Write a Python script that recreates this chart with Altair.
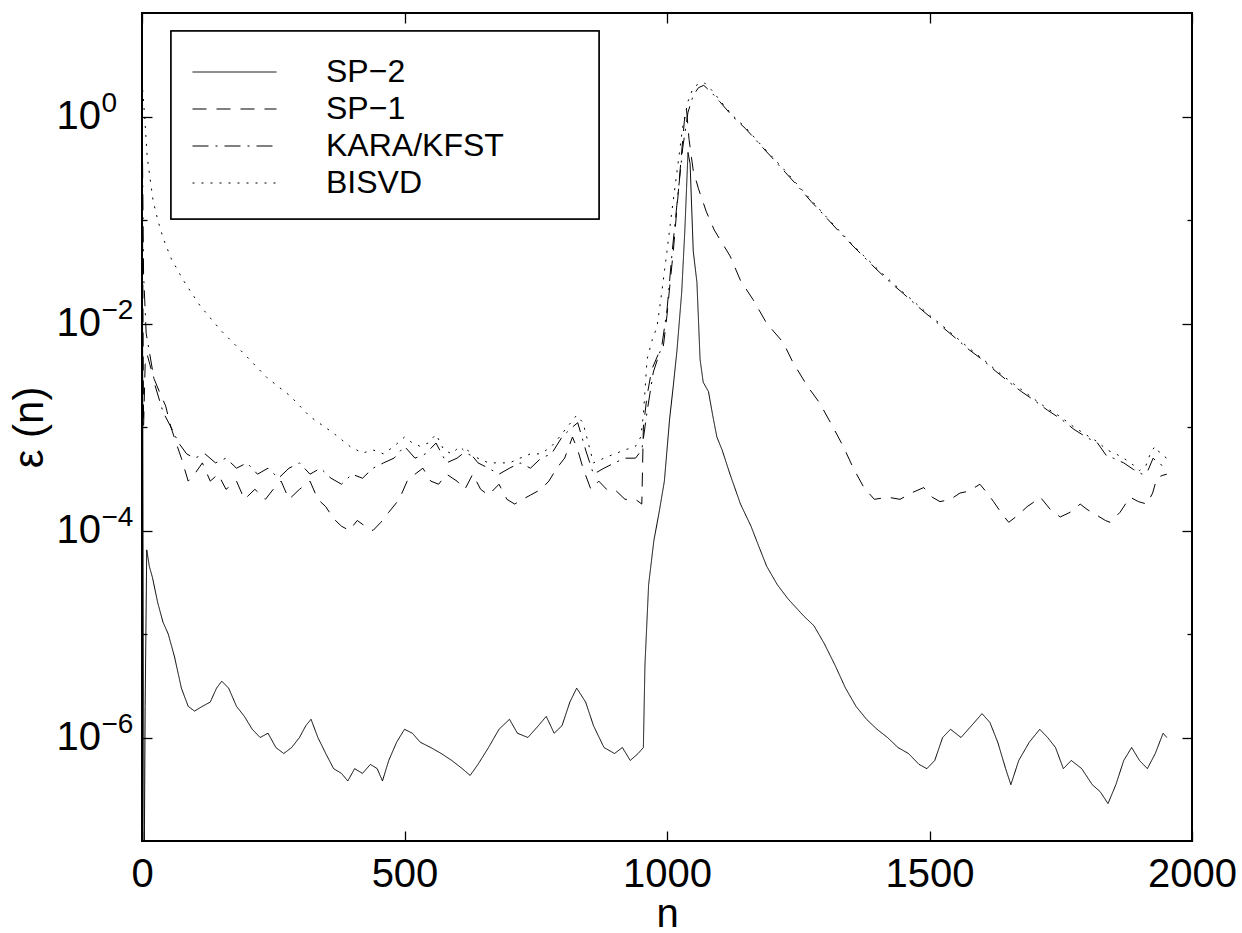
import altair as alt
import pandas as pd

FONT = "Liberation Sans"

# ---- data (n, epsilon(n)) ----
SP2 = [(0, 2.0), (2, 1e-4), (4, 3e-8), (6, 2e-6), (9, 6.5e-5), (14, 4.5e-5), (20, 3.5e-5),
       (30, 2e-5), (40, 1.3e-5), (50, 1e-5), (62, 6e-6), (75, 3e-6), (88, 2e-6), (100, 1.8e-6),
       (115, 2e-6), (130, 2.2e-6), (142, 3e-6), (152, 3.5e-6), (165, 3e-6), (180, 2e-6),
       (195, 1.6e-6), (210, 1.2e-6), (225, 1e-6), (240, 1.1e-6), (255, 8e-7), (270, 7e-7),
       (285, 8e-7), (300, 1e-6), (312, 1.3e-6), (322, 1.5e-6), (335, 1e-6), (350, 7e-7),
       (365, 5e-7), (380, 4.5e-7), (392, 3.8e-7), (405, 5e-7), (420, 4.5e-7), (435, 5.5e-7),
       (448, 5e-7), (458, 3.8e-7), (470, 6e-7), (485, 9e-7), (500, 1.2e-6), (515, 1.1e-6),
       (530, 9e-7), (550, 8e-7), (570, 7e-7), (590, 6e-7), (610, 5e-7), (625, 4.3e-7),
       (640, 5.5e-7), (660, 8e-7), (680, 1.2e-6), (700, 1.5e-6), (715, 1.1e-6), (735, 1e-6),
       (755, 1.3e-6), (770, 1.6e-6), (785, 1.1e-6), (800, 1.3e-6), (815, 2.2e-6), (828, 3e-6),
       (845, 2.2e-6), (860, 1.3e-6), (880, 8e-7), (900, 7e-7), (915, 8e-7), (930, 6e-7),
       (945, 7e-7), (955, 8e-7), (958, 5e-6), (965, 3e-5), (975, 8e-5), (985, 1.5e-4),
       (995, 3e-4), (1005, 1.2e-3), (1012, 2.5e-3), (1019, 5.5e-3), (1028, 2e-2), (1034, 8e-2),
       (1040, 0.45), (1044, 0.35), (1050, 5e-2), (1057, 2.5e-2), (1063, 4.5e-3), (1069, 2.7e-3),
       (1079, 2.2e-3), (1087, 1.3e-3), (1095, 8e-4), (1105, 6e-4), (1120, 3.5e-4), (1140, 1.8e-4),
       (1160, 1.1e-4), (1175, 7e-5), (1190, 4.5e-5), (1210, 3e-5), (1230, 2.2e-5), (1260, 1.5e-5),
       (1280, 1.2e-5), (1300, 8e-6), (1320, 5e-6), (1340, 3e-6), (1360, 2e-6), (1380, 1.5e-6),
       (1400, 1.2e-6), (1420, 1e-6), (1440, 8e-7), (1460, 7e-7), (1480, 5.5e-7), (1495, 5e-7),
       (1510, 6e-7), (1525, 1e-6), (1540, 1.2e-6), (1560, 1e-6), (1580, 1.3e-6), (1600, 1.7e-6),
       (1615, 1.4e-6), (1630, 9e-7), (1645, 5e-7), (1655, 3.5e-7), (1670, 6e-7), (1690, 9e-7),
       (1710, 1.2e-6), (1725, 1e-6), (1740, 8e-7), (1755, 5e-7), (1770, 6e-7), (1790, 5e-7),
       (1810, 3.5e-7), (1825, 3e-7), (1840, 2.3e-7), (1855, 3.5e-7), (1870, 6e-7), (1885, 8e-7),
       (1900, 6e-7), (1915, 5e-7), (1930, 7e-7), (1945, 1.1e-6), (1952, 1e-6)]

SP1 = [(0, 1.0), (3, 1e-3), (6, 4e-3), (10, 5e-3), (15, 4e-3), (22, 3e-3), (33, 2.2e-3),
       (45, 1.6e-3), (55, 1e-3), (65, 7e-4), (75, 5e-4), (88, 3e-4), (100, 3.5e-4), (115, 4.5e-4),
       (130, 3e-4), (145, 3.5e-4), (160, 2.5e-4), (180, 3e-4), (195, 2e-4), (215, 2.5e-4),
       (235, 2e-4), (250, 2.5e-4), (265, 3e-4), (280, 2e-4), (300, 2.5e-4), (320, 3e-4),
       (335, 2e-4), (350, 1.7e-4), (365, 1.3e-4), (380, 1.1e-4), (395, 1e-4), (410, 1.25e-4),
       (425, 1.1e-4), (440, 1e-4), (455, 1.2e-4), (470, 1.5e-4), (490, 2e-4), (505, 3e-4),
       (520, 3.5e-4), (535, 4e-4), (550, 3e-4), (565, 2.8e-4), (580, 3.5e-4), (600, 3e-4),
       (615, 2.5e-4), (630, 3.5e-4), (645, 2.5e-4), (660, 2.2e-4), (680, 2.8e-4), (695, 2e-4),
       (710, 1.8e-4), (725, 2e-4), (740, 2.2e-4), (760, 2.5e-4), (775, 3e-4), (790, 4e-4),
       (805, 5e-4), (820, 8e-4), (830, 6e-4), (840, 4e-4), (855, 2.5e-4), (870, 3e-4),
       (885, 2.5e-4), (900, 2.5e-4), (920, 2e-4), (940, 2e-4), (952, 1.8e-4), (955, 1e-3),
       (962, 2e-3), (971, 3.6e-3), (983, 5e-3), (993, 6e-3), (1000, 1.2e-2), (1006, 2.5e-2),
       (1012, 5e-2), (1020, 1.5e-1), (1027, 4e-1), (1033, 9e-1), (1037, 1.2), (1042, 6e-1),
       (1050, 3e-1), (1060, 2e-1), (1075, 1.2e-1), (1090, 8e-2), (1105, 6e-2), (1120, 4.5e-2),
       (1140, 2.6e-2), (1164, 1.7e-2), (1190, 1e-2), (1221, 6.6e-3), (1240, 4.2e-3),
       (1267, 2.5e-3), (1291, 1.7e-3), (1316, 1e-3), (1335, 6.6e-4), (1355, 4e-4), (1375, 2.6e-4),
       (1395, 2e-4), (1420, 2.1e-4), (1444, 2e-4), (1465, 2.3e-4), (1489, 2.6e-4), (1505, 2.1e-4),
       (1520, 1.9e-4), (1540, 2e-4), (1558, 2.3e-4), (1575, 2.4e-4), (1596, 2.8e-4),
       (1610, 2.3e-4), (1622, 1.9e-4), (1640, 1.4e-4), (1651, 1.2e-4), (1668, 1.4e-4),
       (1686, 1.7e-4), (1700, 1.9e-4), (1711, 2.1e-4), (1730, 1.6e-4), (1749, 1.35e-4),
       (1768, 1.5e-4), (1787, 1.8e-4), (1800, 1.6e-4), (1819, 1.4e-4), (1835, 1.25e-4),
       (1844, 1.2e-4), (1863, 1.5e-4), (1882, 2.1e-4), (1898, 1.9e-4), (1914, 1.8e-4),
       (1925, 2.3e-4), (1933, 3.2e-4), (1943, 3.4e-4), (1952, 3.5e-4)]

KARA = [(0, 1.5), (3, 3e-2), (8, 8e-3), (15, 5e-3), (25, 2.5e-3), (40, 1.4e-3), (55, 1e-3),
        (70, 7e-4), (85, 5.5e-4), (100, 5e-4), (120, 5.5e-4), (140, 4.5e-4), (160, 5e-4),
        (180, 4e-4), (200, 4.5e-4), (220, 3.5e-4), (240, 4e-4), (260, 3.2e-4), (280, 4e-4),
        (300, 4.5e-4), (320, 3.5e-4), (340, 4e-4), (360, 3.2e-4), (380, 2.8e-4), (400, 3.5e-4),
        (420, 3.2e-4), (440, 4e-4), (460, 4.5e-4), (480, 5e-4), (500, 6.5e-4), (520, 5e-4),
        (540, 5.5e-4), (560, 7e-4), (580, 4.5e-4), (600, 5e-4), (620, 6e-4), (640, 4.5e-4),
        (660, 4e-4), (680, 3.5e-4), (700, 4e-4), (720, 4.5e-4), (740, 4e-4), (760, 5e-4),
        (780, 5.5e-4), (800, 8e-4), (820, 1e-3), (830, 1.1e-3), (845, 6e-4), (860, 3.5e-4),
        (880, 4e-4), (900, 4.5e-4), (920, 5e-4), (940, 5e-4), (952, 6e-4), (962, 1.4e-3),
        (974, 3.4e-3), (990, 6e-3), (1000, 1.35e-2), (1010, 5e-2), (1020, 1.6e-1), (1030, 5e-1),
        (1040, 1.1), (1050, 1.6), (1060, 1.9), (1070, 2.0), (1085, 1.7), (1100, 1.4), (1125, 1.0),
        (1150, 7.6e-1), (1175, 5.5e-1), (1200, 4e-1), (1225, 2.9e-1), (1250, 2.1e-1),
        (1275, 1.5e-1), (1300, 1.1e-1), (1325, 8e-2), (1350, 5.9e-2), (1375, 4.4e-2),
        (1400, 3.3e-2), (1425, 2.5e-2), (1450, 1.95e-2), (1475, 1.5e-2), (1500, 1.17e-2),
        (1525, 9.2e-3), (1550, 7.2e-3), (1575, 5.6e-3), (1600, 4.5e-3), (1625, 3.5e-3),
        (1650, 2.75e-3), (1675, 2.2e-3), (1700, 1.8e-3), (1725, 1.45e-3), (1750, 1.2e-3),
        (1775, 9.5e-4), (1800, 7.9e-4), (1820, 7e-4), (1838, 5.2e-4), (1850, 5e-4), (1870, 4.5e-4),
        (1888, 3.9e-4), (1905, 3.5e-4), (1915, 3.7e-4), (1926, 5e-4), (1935, 4.5e-4),
        (1945, 4.2e-4), (1952, 4e-4)]

BISVD = [(0, 2.2), (5, 1.0), (10, 4e-1), (21, 1.55e-1), (30, 1e-1), (41, 6.5e-2), (56, 4.2e-2),
         (79, 2.6e-2), (110, 1.5e-2), (149, 8.7e-3), (196, 5e-3), (238, 3e-3), (282, 2e-3),
         (320, 1.26e-3), (365, 8.7e-4), (396, 6.5e-4), (420, 5.6e-4), (440, 6e-4), (460, 5.5e-4),
         (480, 6.5e-4), (500, 8e-4), (515, 7e-4), (530, 6.5e-4), (545, 7e-4), (560, 8.5e-4),
         (575, 6e-4), (590, 5.5e-4), (605, 6.5e-4), (620, 5.5e-4), (640, 5e-4), (660, 4.5e-4),
         (680, 4.5e-4), (700, 4.5e-4), (720, 5e-4), (740, 5.5e-4), (760, 5.5e-4), (780, 6.5e-4),
         (795, 8e-4), (810, 1e-3), (828, 1.3e-3), (840, 1.1e-3), (850, 7e-4), (860, 4.5e-4),
         (880, 5e-4), (900, 5.5e-4), (920, 6e-4), (940, 6.5e-4), (950, 8e-4), (955, 1.3e-3),
         (962, 4.5e-3), (972, 7e-3), (981, 9.3e-3), (990, 2e-2), (1000, 5e-2), (1010, 1.3e-1),
         (1020, 3.2e-1), (1030, 8e-1), (1040, 1.4), (1050, 1.9), (1062, 2.1), (1072, 2.1),
         (1085, 1.8), (1100, 1.45), (1125, 1.02), (1150, 7.8e-1), (1175, 5.6e-1), (1200, 4.1e-1),
         (1225, 3e-1), (1250, 2.15e-1), (1275, 1.55e-1), (1300, 1.12e-1), (1325, 8.2e-2),
         (1350, 6e-2), (1375, 4.5e-2), (1400, 3.4e-2), (1425, 2.6e-2), (1450, 2e-2),
         (1475, 1.55e-2), (1500, 1.2e-2), (1525, 9.5e-3), (1550, 7.4e-3), (1575, 5.8e-3),
         (1600, 4.6e-3), (1625, 3.6e-3), (1650, 2.85e-3), (1675, 2.3e-3), (1700, 1.85e-3),
         (1725, 1.5e-3), (1750, 1.25e-3), (1775, 1e-3), (1800, 8.3e-4), (1820, 7.2e-4),
         (1838, 6e-4), (1855, 5.5e-4), (1870, 5e-4), (1888, 4.3e-4), (1900, 3.8e-4),
         (1912, 4.2e-4), (1922, 5.8e-4), (1930, 6.5e-4), (1940, 5.5e-4), (1952, 5e-4)]

methods = ["SP−2", "SP−1", "KARA/KFST", "BISVD"]
dash_patterns = [[1, 0], [14, 10], [16, 7, 2, 7], [2, 7]]
x_ticks = [0, 500, 1000, 1500, 2000]
y_labelled = [1e-6, 1e-4, 1e-2, 1]
y_minor = [1e-5, 1e-3, 1e-1]
x_domain = [0, 2000]
y_domain = [1e-7, 10]

rows = []
for name, pts in zip(methods, [SP2, SP1, KARA, BISVD]):
    for i, (n, v) in enumerate(pts):
        rows.append({"n": n, "eps": v, "method": name, "i": i})
df = pd.DataFrame(rows)
frame_df = pd.DataFrame({"n": x_domain, "eps": y_domain})

xscale = alt.Scale(domain=x_domain, nice=False, zero=False)
yscale = alt.Scale(type="log", domain=y_domain, nice=False)

W, H = 1050, 828

lines = alt.Chart(df).mark_line(color="black", strokeWidth=1, clip=True).encode(
    x=alt.X("n:Q", scale=xscale, axis=alt.Axis(
        orient="bottom", values=x_ticks, ticks=False, domain=False, grid=False,
        labelFontSize=40, labelPadding=13, labelFlush=False, labelOverlap=False,
        format="d", title="n", titleFontSize=40, titleFontWeight="normal",
        titleX=W / 2, titleY=73, titleAlign="center", titleBaseline="middle")),
    y=alt.Y("eps:Q", scale=yscale, axis=alt.Axis(
        orient="left", values=y_labelled, labelExpr="'10'", ticks=False, domain=False,
        grid=False, labelAlign="left", labelBaseline="middle", labelPadding=86,
        labelFontSize=40, labelOverlap=False, title="ε (n)", titleFontSize=42,
        titleFontWeight="normal", titleAngle=270, titleX=-113, titleY=H / 2,
        titleAlign="center", titleBaseline="middle")),
    strokeDash=alt.StrokeDash("method:N", scale=alt.Scale(domain=methods, range=dash_patterns),
                              legend=alt.Legend(
                                  orient="none", legendX=50, legendY=44, title=None,
                                  symbolType="stroke", symbolSize=7056, symbolStrokeWidth=1,
                                  symbolStrokeColor="black", labelFontSize=32, labelOffset=49,
                                  labelLimit=400, clipHeight=30, rowPadding=5, padding=0,
                                  labelColor="black", labelFont=FONT)),
    order="i:Q",
)

legend_box = alt.Chart(frame_df).mark_rect(fill="white", stroke="black", strokeWidth=1.5).encode(
    x=alt.value(29), x2=alt.value(457), y=alt.value(18), y2=alt.value(206))


def guide(xaxis, yaxis):
    return alt.Chart(frame_df).mark_point(opacity=0).encode(
        x=alt.X("n:Q", scale=xscale, axis=xaxis),
        y=alt.Y("eps:Q", scale=yscale, axis=yaxis))


def tick_axis(orient, values, size):
    return alt.Axis(orient=orient, values=values, labels=False, domain=False, grid=False,
                    ticks=True, tickSize=size, offset=-size, tickColor="black",
                    tickWidth=1.3, title=None)


major_a = guide(tick_axis("bottom", x_ticks, 10), tick_axis("left", y_labelled, 10))
major_b = guide(tick_axis("top", x_ticks, 10), tick_axis("right", y_labelled, 10))
minor_a = guide(None, tick_axis("left", y_minor, 5))
minor_b = guide(None, tick_axis("right", y_minor, 5))
exponents = guide(None, alt.Axis(
    orient="left", values=y_labelled,
    labelExpr="datum.value >= 0.5 ? '0' : '−' + round(-log(datum.value) / LN10)",
    ticks=False, domain=False, grid=False, labelAlign="left", labelBaseline="middle",
    labelPadding=41, labelFontSize=28, labelOffset=-13, labelOverlap=False, title=None))

chart = alt.layer(lines, legend_box, major_a, major_b, minor_a, minor_b, exponents).resolve_axis(
    x="independent", y="independent"
).properties(
    width=W, height=H,
    autosize=alt.AutoSizeParams(type="none"),
    padding={"left": 142, "top": 13, "right": 50, "bottom": 92},
).configure_view(
    stroke="black", strokeWidth=2
).configure_axis(
    labelFont=FONT, titleFont=FONT, labelColor="black", titleColor="black"
).configure_legend(
    labelFont=FONT
)

chart.save("out.html", embed_options={"renderer": "svg", "actions": False})
